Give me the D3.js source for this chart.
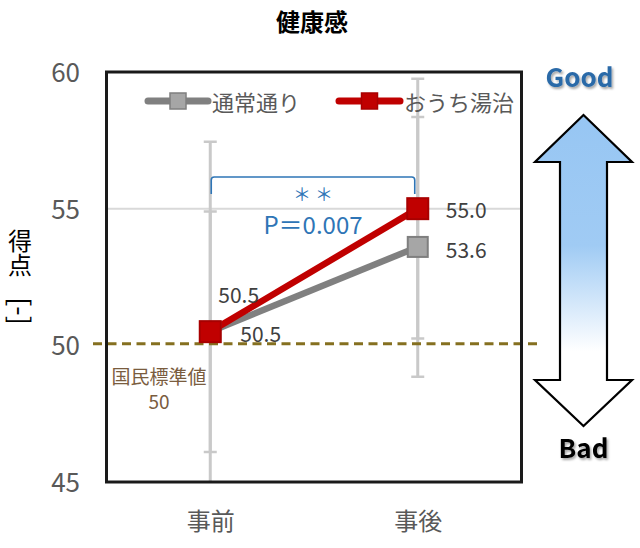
<!DOCTYPE html>
<html><head><meta charset="utf-8">
<script src="https://cdn.jsdelivr.net/npm/d3@7"></script>
<style>
body{margin:0;background:#fff}
text{font-family:"Noto Sans CJK JP","Noto Sans",sans-serif}
</style>
</head><body>
<svg id="c" width="640" height="548"></svg>
<script>
// ---- data ----
const chartTitle = "健康感";
const categories = ["事前", "事後"];
const seriesNames = ["通常通り", "おうち湯治"];
const usualMean = [50.5, 53.6];
const usualSD = [6.95, 4.75];
const onsenMean = [50.5, 55.0];
const onsenSD = [4.4, 4.75];
const yTicks = [45, 50, 55, 60];
const yDomain = [45, 60];
const refValue = 50;
const refLabel = ["国民標準値", "50"];
const sigStars = "＊ ＊";
const pLabel = "P＝0.007";
const yTitleMain = "得点";
const yTitleUnit = "[-]";
const goodLabel = "Good";
const badLabel = "Bad";

// ---- layout ----
const svg = d3.select("#c");
const L = 106.5, R = 521.5, T = 72, B = 482;
const x = d3.scalePoint().domain(categories).range([L, R]).padding(0.5);
const y = d3.scaleLinear().domain(yDomain).range([B, T]);

const series = [
  {name: seriesNames[0], mean: usualMean, sd: usualSD, line: "#808080", fill: "#a6a6a6", stroke: "#7f7f7f", size: 20,
   lab: [[30, 1], [28, 2]]},
  {name: seriesNames[1], mean: onsenMean, sd: onsenSD, line: "#c00000", fill: "#c00000", stroke: "#a80000", size: 21,
   lab: [[8, -38], [28, 0]]}
];

const defs = svg.append("defs");
defs.append("clipPath").attr("id", "plotclip").append("rect")
  .attr("x", L).attr("y", T).attr("width", R - L).attr("height", B - T);
const grad = defs.append("linearGradient").attr("id", "arrowgrad")
  .attr("x1", 0).attr("y1", 0).attr("x2", 0).attr("y2", 1);
grad.append("stop").attr("offset", 0).attr("stop-color", "#97c6f3");
grad.append("stop").attr("offset", 0.42).attr("stop-color", "#a0cbf4");
grad.append("stop").attr("offset", 0.76).attr("stop-color", "#ffffff");
grad.append("stop").attr("offset", 1).attr("stop-color", "#ffffff");
const sh = defs.append("filter").attr("id", "shadow").attr("x", "-20%").attr("y", "-20%").attr("width", "140%").attr("height", "160%");
sh.append("feDropShadow").attr("dx", 1.5).attr("dy", 2).attr("stdDeviation", 1.2).attr("flood-color", "#000").attr("flood-opacity", 0.35);

// title
svg.append("text").attr("x", 312).attr("y", 20).attr("text-anchor", "middle")
  .attr("dominant-baseline", "central").attr("font-size", 24).attr("font-weight", "bold")
  .attr("fill", "#000").text(chartTitle);

// gridlines (horizontal, interior)
svg.append("g").selectAll("line").data(yTicks.filter(v => v > yDomain[0] && v < yDomain[1] && v !== refValue))
  .join("line").attr("x1", L).attr("x2", R).attr("y1", d => y(d)).attr("y2", d => y(d))
  .attr("stroke", "#d9d9d9").attr("stroke-width", 2);

// error bars
const eb = svg.append("g").attr("clip-path", "url(#plotclip)");
series.forEach(s => {
  categories.forEach((c, i) => {
    const hi = s.mean[i] + s.sd[i], lo = s.mean[i] - s.sd[i];
    const cx = x(c);
    eb.append("line").attr("x1", cx).attr("x2", cx).attr("y1", y(hi)).attr("y2", y(Math.max(lo, yDomain[0] - 1)))
      .attr("stroke", "#c9c9c9").attr("stroke-width", 3);
    [hi, lo].filter(v => v >= yDomain[0] && v <= yDomain[1]).forEach(v => {
      eb.append("line").attr("x1", cx - 6.5).attr("x2", cx + 6.5).attr("y1", y(v)).attr("y2", y(v))
        .attr("stroke", "#c9c9c9").attr("stroke-width", 2.5);
    });
  });
});

// reference dashed line
svg.append("line").attr("x1", 93).attr("x2", 538).attr("y1", y(refValue) - 1.5).attr("y2", y(refValue) - 1.5)
  .attr("stroke", "#857020").attr("stroke-width", 3).attr("stroke-dasharray", "9,5.5");
svg.append("g").selectAll("text").data(refLabel).join("text")
  .attr("x", 159).attr("y", (d, i) => 375 + i * 25).attr("text-anchor", "middle")
  .attr("dominant-baseline", "central").attr("font-size", 19).attr("fill", "#7a5c3e").text(d => d);

// lines
const lineGen = d3.line().x((d, i) => x(categories[i])).y(d => y(d));
series.forEach(s => {
  svg.append("path").attr("d", lineGen(s.mean)).attr("fill", "none")
    .attr("stroke", s.line).attr("stroke-width", 6.5);
});
// markers
series.forEach(s => {
  svg.append("g").selectAll("rect").data(s.mean).join("rect")
    .attr("x", (d, i) => x(categories[i]) - s.size / 2).attr("y", d => y(d) - s.size / 2)
    .attr("width", s.size).attr("height", s.size)
    .attr("fill", s.fill).attr("stroke", s.stroke).attr("stroke-width", 2);
});
// data labels
series.forEach(s => {
  svg.append("g").selectAll("text").data(s.mean).join("text")
    .attr("x", (d, i) => x(categories[i]) + s.lab[i][0]).attr("y", (d, i) => y(d) + s.lab[i][1])
    .attr("dominant-baseline", "central").attr("font-size", 21).attr("fill", "#404040")
    .text(d => d3.format(".1f")(d));
});

// significance bracket
const bx1 = x(categories[0]) + 1, bx2 = x(categories[1]) - 3, by = 177, bd = 194, r = 3;
svg.append("path")
  .attr("d", `M${bx1},${bd} L${bx1},${by + r} Q${bx1},${by} ${bx1 + r},${by} L${bx2 - r},${by} Q${bx2},${by} ${bx2},${by + r} L${bx2},${bd}`)
  .attr("fill", "none").attr("stroke", "#2e75b6").attr("stroke-width", 1.6);
svg.append("text").attr("x", 313).attr("y", 193).attr("text-anchor", "middle").attr("dominant-baseline", "central")
  .attr("font-size", 18).attr("fill", "#2e75b6").text(sigStars);
svg.append("text").attr("x", 313).attr("y", 223).attr("text-anchor", "middle").attr("dominant-baseline", "central")
  .attr("font-size", 24).attr("fill", "#2e75b6").text(pLabel);

// plot frame
svg.append("rect").attr("x", L).attr("y", T).attr("width", R - L).attr("height", B - T)
  .attr("fill", "none").attr("stroke", "#1a1a1a").attr("stroke-width", 3);

// axes
const yAxis = svg.append("g").attr("transform", `translate(${L},0)`)
  .call(d3.axisLeft(y).tickValues(yTicks).tickSize(0).tickPadding(26.5));
yAxis.select(".domain").remove();
yAxis.selectAll("text").attr("font-size", 26).attr("fill", "#595959")
  .attr("font-family", '"Noto Sans CJK JP",sans-serif').attr("dy", "0.36em");

const xAxis = svg.append("g").attr("transform", `translate(0,${B})`)
  .call(d3.axisBottom(x).tickSize(0).tickPadding(31));
xAxis.select(".domain").remove();
xAxis.selectAll("text").attr("font-size", 24).attr("fill", "#595959")
  .attr("font-family", '"Noto Sans CJK JP",sans-serif');

// y title (vertical stacked + rotated unit)
svg.append("text").attr("x", 20).attr("y", 229)
  .style("writing-mode", "vertical-rl").attr("font-size", 24).attr("fill", "#000").text(yTitleMain);
svg.append("text").attr("transform", "translate(21,311) rotate(90)").attr("text-anchor", "middle")
  .attr("dominant-baseline", "central").attr("font-size", 27).attr("fill", "#000").text(yTitleUnit);

// legend
const legItems = [{s: series[0], x1: 148, x2: 208, tx: 212}, {s: series[1], x1: 339, x2: 400, tx: 404}];
const ly = 101;
legItems.forEach(it => {
  svg.append("line").attr("x1", it.x1).attr("x2", it.x2).attr("y1", ly).attr("y2", ly)
    .attr("stroke", it.s.line).attr("stroke-width", 7).attr("stroke-linecap", "round");
  const m = (it.x1 + it.x2) / 2;
  svg.append("rect").attr("x", m - 8).attr("y", ly - 8).attr("width", 16).attr("height", 16)
    .attr("fill", it.s.fill).attr("stroke", it.s.stroke).attr("stroke-width", 1.5);
  svg.append("text").attr("x", it.tx).attr("y", ly).attr("dominant-baseline", "central")
    .attr("font-size", 22).attr("fill", "#595959").text(it.s.name);
});

// Good / Bad double arrow
const ax = 583.5, hw = 48.5, sw = 23.5, tipT = 115, headT = 162, headB = 380, tipB = 426;
const arrowPts = [[ax, tipT], [ax + hw, headT], [ax + sw, headT], [ax + sw, headB], [ax + hw, headB], [ax, tipB],
  [ax - hw, headB], [ax - sw, headB], [ax - sw, headT], [ax - hw, headT]];
svg.append("path").attr("d", "M" + arrowPts.map(p => p.join(",")).join("L") + "Z")
  .attr("fill", "url(#arrowgrad)").attr("stroke", "#000").attr("stroke-width", 2.2).attr("stroke-linejoin", "miter");
svg.append("text").attr("x", ax - 4).attr("y", 87).attr("text-anchor", "middle")
  .attr("font-family", '"DejaVu Sans",sans-serif').attr("font-weight", "bold").attr("font-size", 26)
  .attr("fill", "#2b6aa8").attr("filter", "url(#shadow)").text(goodLabel);
svg.append("text").attr("x", ax).attr("y", 458).attr("text-anchor", "middle")
  .attr("font-family", '"DejaVu Sans",sans-serif').attr("font-weight", "bold").attr("font-size", 26)
  .attr("fill", "#000").attr("filter", "url(#shadow)").text(badLabel);
</script>
</body></html>
